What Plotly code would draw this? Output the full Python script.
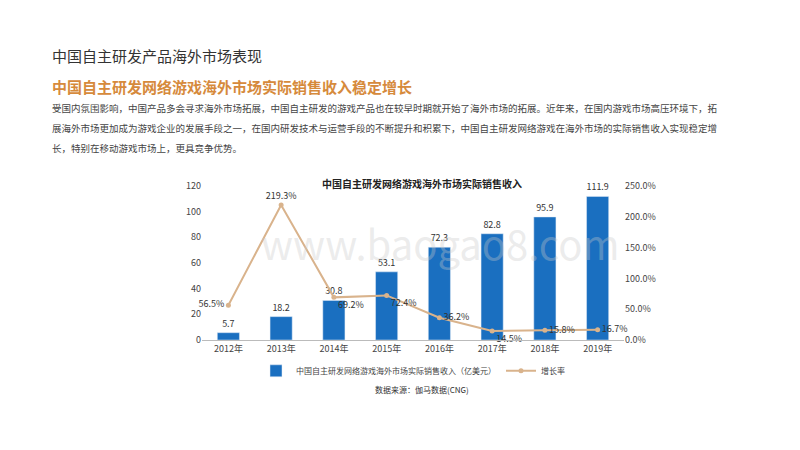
import plotly.graph_objects as go

years = ["2012年","2013年","2014年","2015年","2016年","2017年","2018年","2019年"]
revenue = [5.7, 18.2, 30.8, 53.1, 72.3, 82.8, 95.9, 111.9]
growth = [56.5, 219.3, 69.2, 72.4, 36.2, 14.5, 15.8, 16.7]
growth_pos = ["middle left","top center","bottom right","bottom right","middle right","bottom right","middle right","middle right"]

F = "Noto Sans CJK SC"
O = 8  # page body margin
L, R, T, B = 202-O, 176+O, 186-O, 110+O
fig = go.Figure()
fig.add_bar(x=years, y=revenue, name="中国自主研发网络游戏海外市场实际销售收入（亿美元）",
            marker_color="#1a6fc0", width=0.42, text=[f"{v}" for v in revenue],
            textposition="outside", textfont=dict(size=9, color="#333"), cliponaxis=False)
fig.add_scatter(x=years, y=growth, yaxis="y2", name="增长率", mode="lines+markers+text",
                line=dict(color="#d9b38c", width=2), marker=dict(size=5, color="#d9b38c"),
                text=[f"{v}%" for v in growth], textposition=growth_pos,
                textfont=dict(size=9, color="#333"), cliponaxis=False)

fig.update_layout(
    width=800, height=450, margin=dict(l=L, r=R, t=T, b=B, autoexpand=False),
    paper_bgcolor="white", plot_bgcolor="white", font=dict(family=F, size=9, color="#444"),
    showlegend=True,
    legend=dict(orientation="h", x=0.5, xanchor="center", y=-0.2, yanchor="middle", font=dict(size=8)),
    xaxis=dict(showline=True, linecolor="#bbb", ticks="", tickfont=dict(size=9), automargin=False),
    yaxis=dict(range=[0,120], dtick=20, showgrid=False, zeroline=False, tickfont=dict(size=9), automargin=False),
    yaxis2=dict(overlaying="y", side="right", range=[0,250], dtick=50, ticksuffix=".0%",
                showgrid=False, zeroline=False, tickfont=dict(size=9), automargin=False),
)
def P(px, py):
    px, py = px-O, py-O
    return (px-L)/(800-L-R), (450-B-py)/(450-T-B)
ann = [
    (50, 55, "中国自主研发产品海外市场表现", 15, "#333"),
    (50, 86, "<b>中国自主研发网络游戏海外市场实际销售收入稳定增长</b>", 15, "#d68a3c"),
    (50, 108, "受国内氛围影响，中国产品多会寻求海外市场拓展，中国自主研发的游戏产品也在较早时期就开始了海外市场的拓展。近年来，在国内游戏市场高压环境下，拓", 9.5, "#444"),
    (50, 128, "展海外市场更加成为游戏企业的发展手段之一，在国内研发技术与运营手段的不断提升和积累下，中国自主研发网络游戏在海外市场的实际销售收入实现稳定增", 9.5, "#444"),
    (50, 148, "长，特别在移动游戏市场上，更具竞争优势。", 9.5, "#444"),
]
for px, py, t, s, c in ann:
    x, y = P(px, py)
    fig.add_annotation(x=x, y=y, xref="paper", yref="paper", xanchor="left", yanchor="middle",
                       showarrow=False, text=t, font=dict(size=s, color=c, family=F))
x, y = P(422, 174)
fig.add_annotation(x=x, y=y, xref="paper", yref="paper", showarrow=False,
                   text="<b>中国自主研发网络游戏海外市场实际销售收入</b>", font=dict(size=10, color="#222", family=F))
x, y = P(422, 397)
fig.add_annotation(x=x, y=y, xref="paper", yref="paper", showarrow=False,
                   text="数据来源：伽马数据(CNG)", font=dict(size=8, color="#333", family=F))
x, y = P(440, 212)
fig.add_annotation(x=x, y=y, xref="paper", yref="paper", showarrow=False,
                   text="www.baogao8.com", font=dict(size=40, color="rgba(200,200,200,0.35)", family=F))
fig.write_html("out.html")
